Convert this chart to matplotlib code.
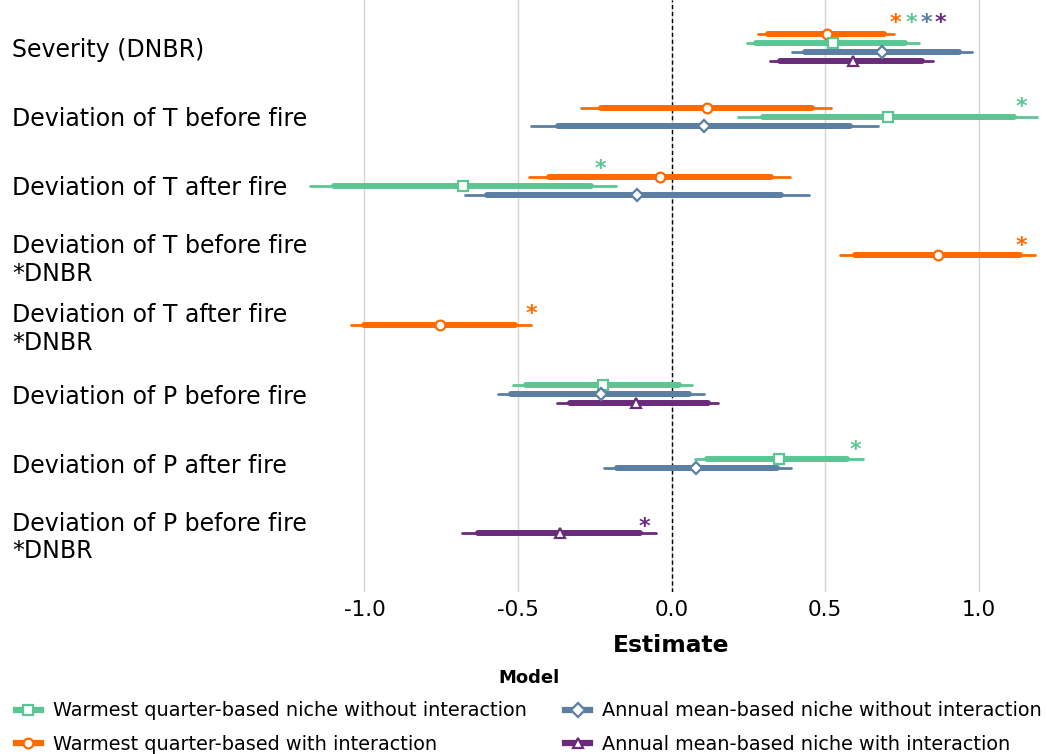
import numpy as np
import matplotlib.pyplot as plt
from matplotlib.lines import Line2D

# Filas (de arriba hacia abajo)
terms = ["Severity (DNBR)",
         "Deviation of T before fire",
         "Deviation of T after fire",
         "Deviation of T before fire\n*DNBR",
         "Deviation of T after fire\n*DNBR",
         "Deviation of P before fire",
         "Deviation of P after fire",
         "Deviation of P before fire\n*DNBR"]

# Modelos, en el orden de apilado dentro de cada fila
models = ["wqi", "wq", "am", "ami"]
labels = {"wq": "Warmest quarter-based niche without interaction",
          "wqi": "Warmest quarter-based with interaction",
          "am": "Annual mean-based niche without interaction",
          "ami": "Annual mean-based niche with interaction"}
colors = {"wq": "#5cc594", "wqi": "#ff6a00", "am": "#5a7fa2", "ami": "#6a2c7a"}
markers = {"wq": "s", "wqi": "o", "am": "D", "ami": "^"}

# fila -> (2.5%, 17%, estimado, 83%, 97.5%)
wq = {0: [0.246, 0.276, 0.525, 0.759, 0.806],
      1: [0.218, 0.297, 0.705, 1.114, 1.190],
      2: [-1.176, -1.100, -0.679, -0.262, -0.181],
      5: [-0.516, -0.473, -0.224, 0.025, 0.066],
      6: [0.078, 0.115, 0.349, 0.573, 0.622]}
wqi = {0: [0.282, 0.314, 0.505, 0.691, 0.726],
       1: [-0.295, -0.230, 0.114, 0.459, 0.521],
       2: [-0.464, -0.398, -0.039, 0.325, 0.385],
       3: [0.548, 0.599, 0.867, 1.136, 1.184],
       4: [-1.043, -1.000, -0.753, -0.511, -0.457]}
am = {0: [0.391, 0.435, 0.686, 0.937, 0.980],
      1: [-0.459, -0.370, 0.106, 0.582, 0.672],
      2: [-0.674, -0.600, -0.112, 0.358, 0.447],
      5: [-0.566, -0.522, -0.229, 0.058, 0.105],
      6: [-0.221, -0.176, 0.081, 0.342, 0.390]}
ami = {0: [0.322, 0.353, 0.590, 0.817, 0.853],
       5: [-0.372, -0.330, -0.114, 0.118, 0.151],
       7: [-0.682, -0.631, -0.364, -0.102, -0.052]}
data = {"wq": wq, "wqi": wqi, "am": am, "ami": ami}

# Asteriscos de significancia
star_rows = [0, 0, 0, 0, 1, 2, 3, 4, 6, 7]
star_models = ["wqi", "wq", "am", "ami", "wq", "wq", "wqi", "wqi", "wq", "ami"]
star_x = [0.73, 0.78, 0.83, 0.876, 1.14, -0.233, 1.141, -0.457, 0.60, -0.088]
star_dy = [-0.40, -0.40, -0.40, -0.40, -0.195, -0.29, -0.19, -0.20, -0.24, -0.14]

W, H = 1047, 754
fig = plt.figure(figsize=(W / 100, H / 100), dpi=100)
ax = fig.add_axes([303 / W, 1 - 592 / H, 737 / W, 592 / H])

step = 0.13
for r in range(len(terms)):
    present = [m for m in models if r in data[m]]
    n = len(present)
    for i, m in enumerate(present):
        y = r + (i - (n - 1) / 2) * step
        lo95, lo66, est, hi66, hi95 = data[m][r]
        c = colors[m]
        ax.plot([lo95, hi95], [y, y], color=c, lw=2.0, solid_capstyle="round", zorder=3)
        ax.plot([lo66, hi66], [y, y], color=c, lw=4.3, solid_capstyle="round", zorder=3)
        ax.plot([est], [y], marker=markers[m], ms=7 if m != "am" else 6.5,
                mfc="white", mec=c, mew=1.6, zorder=4)

for r, m, x, dy in zip(star_rows, star_models, star_x, star_dy):
    ax.text(x, r + dy + 0.05, "*", color=colors[m], fontsize=16, fontweight="bold",
            ha="center", va="center", zorder=5)

ax.set_xlim(-1.2, 1.2)
ax.set_ylim(7.85, -0.68)
ax.set_xticks([-1.0, -0.5, 0.0, 0.5, 1.0])
ax.set_xticklabels(["-1.0", "-0.5", "0.0", "0.5", "1.0"], fontsize=15.5)
ax.set_yticks(range(len(terms)))
ax.set_yticklabels(terms, fontsize=17)
for t in ax.get_yticklabels():
    t.set_ha("left")
    t.set_multialignment("left")
ax.tick_params(axis="y", length=0, pad=291 * 0.72)
ax.tick_params(axis="x", length=0, pad=6)
ax.grid(axis="x", color="#d4d4d4", lw=1)
ax.grid(axis="y", visible=False)
ax.axvline(0, color="black", lw=1, ls=(0, (3, 2)), zorder=2)
for s in ax.spines.values():
    s.set_visible(False)
ax.set_axisbelow(True)
ax.set_xlabel("Estimate", fontsize=16.8, fontweight="bold", labelpad=10)

handles = []
for m in ["wq", "wqi", "am", "ami"]:
    handles.append(Line2D([0], [0], color=colors[m], lw=4.5, marker=markers[m],
                          ms=7, mfc="white", mec=colors[m], mew=1.6))
leg = fig.legend(handles, [labels[m] for m in ["wq", "wqi", "am", "ami"]],
                 ncol=2, loc="lower center", bbox_to_anchor=(0.505, -0.023),
                 frameon=False, fontsize=13.9, title="Model",
                 title_fontproperties={"weight": "bold", "size": 13},
                 handlelength=1.3, handletextpad=0.6, columnspacing=2.0,
                 labelspacing=0.75)

fig.savefig("out.png", dpi=100)
